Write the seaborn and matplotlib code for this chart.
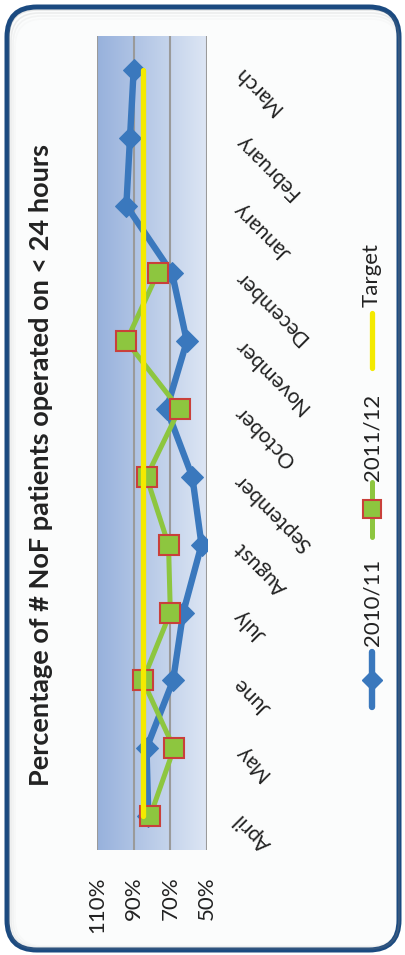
import numpy as np
import pandas as pd
import seaborn as sns
import matplotlib.pyplot as plt
from matplotlib.colors import LinearSegmentedColormap
from matplotlib.lines import Line2D
from matplotlib.patches import FancyBboxPatch

# Percentage of # NoF patients operated on < 24 hours (chart drawn turned on its side).
months = ['April', 'May', 'June', 'July', 'August', 'September',
          'October', 'November', 'December', 'January', 'February', 'March']
rate_2010 = [82, 83, 68.5, 63, 53, 58, 72, 61, 69, 94, 92, 90]
rate_2011 = [81, 68, 85, 70, 71, 83, 65, 94, 77]
target = [85, 85, 85, 85, 85, 85, 85, 85, 85, 85, 85, 85]
pct_ticks = [110, 90, 70, 50]

blue = '#3a78bd'
green = '#8dc63f'
yellow = '#f4ea00'
red_edge = '#c9403a'

sns.set_theme(style='white')
plt.rcParams['font.family'] = ['Lato', 'DejaVu Sans']

W, H = 405, 955
fig = plt.figure(figsize=(W / 100, H / 100), dpi=100)
fig.patch.set_facecolor('white')


def fx(x):
    return x / W


def fy(y):
    return 1 - y / H


# Rounded outer frame with a soft inner shadow.
frame = FancyBboxPatch((0.07, 0.05), 3.92, 9.43, boxstyle='round,pad=0,rounding_size=0.3',
                       transform=fig.dpi_scale_trans, facecolor='#fbfcfc',
                       edgecolor='#1b4a80', linewidth=3.6, zorder=0)
fig.patches.append(frame)
for i, a in enumerate([0.18, 0.12, 0.07, 0.03]):
    sh = FancyBboxPatch((0.07 + 0.02 * (i + 1), 0.05 + 0.01 * (i + 1)), 3.92 - 0.02 * (i + 1),
                        9.43 - 0.04 * (i + 1), boxstyle='round,pad=0,rounding_size=0.28',
                        transform=fig.dpi_scale_trans, facecolor='none',
                        edgecolor='#7f7f7f', alpha=a, linewidth=1.2, zorder=0)
    fig.patches.append(sh)

ax = fig.add_axes([fx(97), fy(850), fx(207) - fx(97), fy(36) - fy(850)])
ax.set_zorder(2)

# Plot area gradient.
cmap = LinearSegmentedColormap.from_list('bg', ['#97b1dc', '#dde6f4'])
grad = np.linspace(0, 1, 256).reshape(1, -1)
ax.imshow(grad, extent=[110, 50, -0.5, 11.5], aspect='auto', cmap=cmap, zorder=0)

df_a = pd.DataFrame({'pos': list(range(len(rate_2010))), 'rate': rate_2010})
df_b = pd.DataFrame({'pos': list(range(len(rate_2011))), 'rate': rate_2011})
df_t = pd.DataFrame({'pos': list(range(len(target))), 'rate': target})

sns.lineplot(data=df_a, x='rate', y='pos', orient='y', sort=False, ax=ax,
             color=blue, linewidth=4.6, marker='D', markersize=11,
             markeredgecolor=blue, zorder=3)
sns.lineplot(data=df_b, x='rate', y='pos', orient='y', sort=False, ax=ax,
             color=green, linewidth=3.6, marker='s', markersize=14,
             markerfacecolor=green, markeredgecolor=red_edge, markeredgewidth=1.5, zorder=4)
sns.lineplot(data=df_t, x='rate', y='pos', orient='y', sort=False, ax=ax,
             color=yellow, linewidth=3.8, zorder=5)

ax.set_xlim(110, 50)
ax.set_ylim(-0.5, 11.5)
ax.set_xticks(pct_ticks)
ax.set_xticklabels([f'{t}%' for t in pct_ticks], rotation=90, fontsize=16, color='#222222')
ax.grid(axis='x', color='#9a9a9a', linewidth=1.5)
ax.grid(axis='y', visible=False)
for s in ax.spines.values():
    s.set_visible(False)
ax.set_xlabel('')
ax.set_ylabel('')

ax.yaxis.tick_right()
ax.set_yticks(range(len(months)))
ax.set_yticklabels(months, fontsize=15, color='#222222')
for lbl in ax.get_yticklabels():
    lbl.set_rotation(135)
    lbl.set_rotation_mode('anchor')
    lbl.set_ha('right')
    lbl.set_va('center')
ax.tick_params(axis='both', length=0)
ax.tick_params(axis='x', pad=19)
ax.tick_params(axis='y', pad=22)
if ax.get_legend():
    ax.get_legend().remove()

# Title on the left.
fig.text(fx(41), fy(465), 'Percentage of # NoF patients operated on < 24 hours',
         rotation=90, ha='center', va='center', fontsize=19.5, fontweight='bold',
         color='#222222')

# Legend drawn sideways on the right.
lx = fx(372)
fig.add_artist(Line2D([lx, lx], [fy(707), fy(652)], color=blue, linewidth=4.6,
                      transform=fig.transFigure))
fig.add_artist(Line2D([lx], [fy(680)], color=blue, marker='D', markersize=10,
                      transform=fig.transFigure))
fig.text(lx, fy(602), '2010/11', rotation=90, ha='center', va='center', fontsize=16, color='#222222')
fig.add_artist(Line2D([lx, lx], [fy(537), fy(482)], color=green, linewidth=3.6,
                      transform=fig.transFigure))
fig.add_artist(Line2D([lx], [fy(509)], color=green, marker='s', markersize=13,
                      markeredgecolor=red_edge, markeredgewidth=1.5, transform=fig.transFigure))
fig.text(lx, fy(437), '2011/12', rotation=90, ha='center', va='center', fontsize=16, color='#222222')
fig.add_artist(Line2D([lx, lx], [fy(368), fy(313)], color=yellow, linewidth=3.8,
                      transform=fig.transFigure))
fig.text(lx, fy(275), 'Target', rotation=90, ha='center', va='center', fontsize=16, color='#222222')

fig.savefig('out.png', dpi=100)
